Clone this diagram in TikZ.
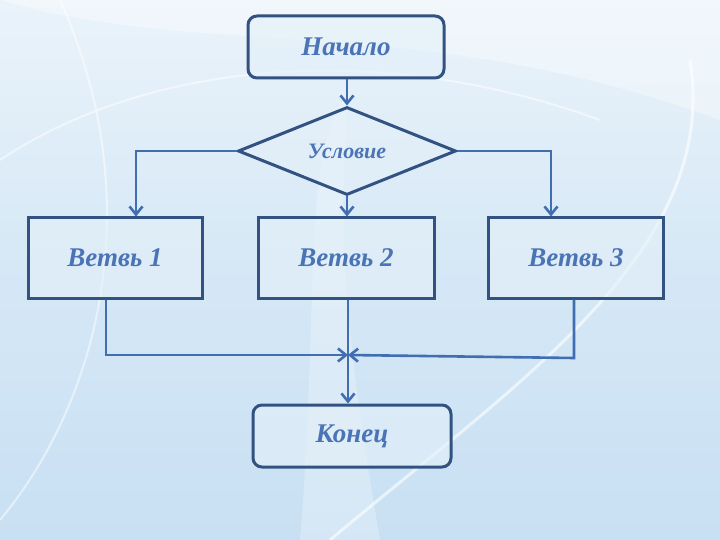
\documentclass[tikz,border=0pt]{standalone}
\usepackage{fontspec}
\setmainfont{Liberation Serif}
\usetikzlibrary{shapes.geometric,arrows.meta}
\definecolor{bgA}{RGB}{234,243,250}
\definecolor{bgB}{RGB}{200,224,243}
\definecolor{boxline}{RGB}{50,82,130}
\definecolor{conn}{RGB}{64,110,176}
\definecolor{txt}{RGB}{74,116,182}
\definecolor{boxfill}{RGB}{228,240,249}
\tikzset{
  blockbox/.style={draw=boxline,line width=3pt,fill=boxfill,fill opacity=0.6,text opacity=1,inner sep=0pt,
     font=\fontsize{27}{30}\selectfont\bfseries\itshape,text=txt},
  termbox/.style={blockbox,rounded corners=9pt},
  condbox/.style={draw=boxline,line width=3pt,fill=boxfill,fill opacity=0.5,text opacity=1,diamond,aspect=2.45,
     inner sep=0pt,font=\fontsize{22}{24}\selectfont\bfseries\itshape,text=txt},
  conline/.style={draw=conn,line width=2.6pt},
  conarrow/.style={conline,-{Straight Barb[length=8pt,width=13pt,line width=2.6pt]}},
}
\begin{document}
\begin{tikzpicture}[x=1pt,y=-1pt]
\useasboundingbox (0,0) rectangle (720,540);
% background
\shade[top color=bgA,bottom color=bgB,middle color=bgB!60!bgA] (0,0) rectangle (720,540);
\fill[white,opacity=0.35] (0,0) .. controls (200,60) and (420,10) .. (720,120) -- (720,0) -- cycle;
\draw[white,opacity=0.6,line width=3pt] (330,540) .. controls (520,380) and (720,250) .. (690,60);
\draw[white,opacity=0.5,line width=2pt] (0,160) .. controls (150,60) and (380,40) .. (600,120);
\draw[white,opacity=0.5,line width=2pt] (60,0) .. controls (150,200) and (100,400) .. (0,520);
\fill[white,opacity=0.25] (300,540) .. controls (320,300) and (300,150) .. (350,90) .. controls (330,250) and (360,420) .. (380,540) -- cycle;

% nodes
\node[termbox,minimum width=196pt,minimum height=62pt] (start) at (346,47) {Начало};
\node[condbox,minimum width=218pt,minimum height=88pt] (cond) at (347,151) {Условие};
\node[blockbox,minimum width=174pt,minimum height=80pt] (b1) at (115,258) {Ветвь 1};
\node[blockbox,minimum width=176pt,minimum height=80pt] (b2) at (346,258) {Ветвь 2};
\node[blockbox,minimum width=175pt,minimum height=80pt] (b3) at (576,258) {Ветвь 3};
\node[termbox,minimum width=198pt,minimum height=62pt] (end) at (352,436) {Конец};

\coordinate (m) at (348,355);

% connectors
\draw[conarrow] (start.south -| cond.north) -- (cond.north);
\draw[conarrow] (cond.west) -- (136,151) -- (b1.north -| 136,0);
\draw[conarrow] (cond.east) -- (551,151) -- (b3.north -| 551,0);
\draw[conarrow] (cond.south) -- (b2.north -| cond.south);
\draw[conarrow] (b1.south -| 106,0) -- (106,355) -- (m);
\draw[conarrow] (b3.south -| 574,0) -- (574,358) -- (m);
\draw[conarrow] (b2.south -| 348,0) -- (end.north -| 348,0);
\end{tikzpicture}
\end{document}
